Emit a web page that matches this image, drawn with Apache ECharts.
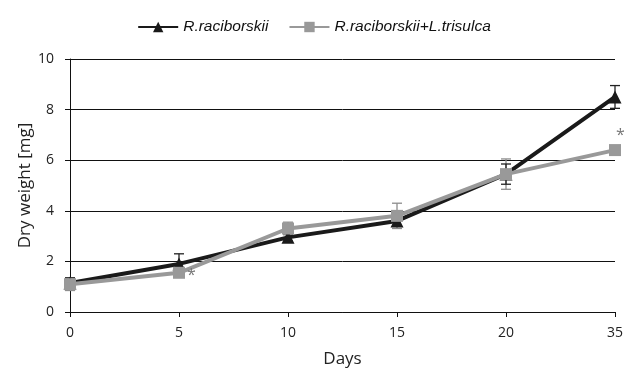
<!DOCTYPE html>
<html><head><meta charset="utf-8">
<script src="https://cdn.jsdelivr.net/npm/echarts@6/dist/echarts.min.js"></script>
<style>html,body{margin:0;padding:0;background:#fff}#c{width:628px;height:369px}</style>
</head><body><div id="c"></div>
<script>
const days = ['0','5','10','15','20','35'];
const seriesNames = ['R.raciborskii','R.raciborskii+L.trisulca'];
const rac = [1.15, 1.9, 2.95, 3.6, 5.45, 8.5];
const racErr = [0.2, 0.4, 0.15, 0.2, 0.4, 0.45];
const mix = [1.1, 1.55, 3.3, 3.8, 5.45, 6.4];
const mixErr = [0.25, 0.15, 0.25, 0.5, 0.6, 0.1];
const mixSig = ['', '*', '', '', '', '*'];
const yTicks = [0, 2, 4, 6, 8, 10];

const chart = echarts.init(document.getElementById('c'));
function errSeries(vals, errs, color, z) {
  return {
    type: 'custom', z: z, silent: true,
    data: vals.map((v, i) => [i, v - errs[i], v + errs[i]]),
    renderItem: function (params, api) {
      const lo = api.coord([api.value(0), api.value(1)]);
      const hi = api.coord([api.value(0), api.value(2)]);
      const w = 5;
      const st = { stroke: color, lineWidth: 1.3 };
      return { type: 'group', children: [
        { type: 'line', shape: { x1: lo[0], y1: lo[1], x2: hi[0], y2: hi[1] }, style: st },
        { type: 'line', shape: { x1: lo[0]-w, y1: lo[1], x2: lo[0]+w, y2: lo[1] }, style: st },
        { type: 'line', shape: { x1: hi[0]-w, y1: hi[1], x2: hi[0]+w, y2: hi[1] }, style: st }
      ]};
    }
  };
}
chart.setOption({
  animation: false,
  textStyle: { fontFamily: 'Open Sans' },
  legend: {
    top: 14, left: 'center', itemWidth: 40, itemHeight: 13, itemGap: 20,
    textStyle: { fontFamily: 'Liberation Sans', fontStyle: 'italic', fontSize: 15.5, color: '#111' },
    data: seriesNames
  },
  grid: { left: 70, right: 13, top: 59, bottom: 57, containLabel: false, outerBoundsMode: 'none' },
  xAxis: {
    type: 'category', data: days, boundaryGap: false,
    name: 'Days', nameLocation: 'middle', nameGap: 39, nameMoveOverlap: false,
    nameTextStyle: { fontSize: 17, color: '#222' },
    axisLine: { lineStyle: { color: '#111', width: 1 } },
    axisTick: { show: true, length: 5, lineStyle: { color: '#111' } },
    axisLabel: { fontSize: 14, color: '#222', margin: 14 },
    splitLine: { show: false }
  },
  yAxis: {
    type: 'value', min: yTicks[0], max: yTicks[yTicks.length-1], interval: 2,
    name: 'Dry weight [mg]', nameLocation: 'middle', nameGap: 36, nameMoveOverlap: false,
    nameTextStyle: { fontSize: 17, color: '#222' },
    axisLine: { show: true, lineStyle: { color: '#111', width: 1 } },
    axisTick: { show: true, length: 5, lineStyle: { color: '#111' } },
    axisLabel: { fontSize: 14, color: '#222', margin: 16 },
    splitLine: { show: true, lineStyle: { color: '#111', width: 1 } }
  },
  series: [
    errSeries(mix, mixErr, '#8c8c8c', 1),
    errSeries(rac, racErr, '#222', 1),
    {
      name: seriesNames[0], type: 'line', data: rac, z: 3,
      symbol: 'triangle', symbolSize: 13,
      lineStyle: { color: '#1a1a1a', width: 4 },
      itemStyle: { color: '#1a1a1a' }
    },
    {
      name: seriesNames[1], type: 'line', data: mix.map((v, i) => ({
        value: v,
        label: mixSig[i] ? { show: true, formatter: mixSig[i], position: i === 5 ? [7, -17] : [14, 1], fontSize: 16, color: '#777' } : { show: false }
      })), z: 4,
      symbol: 'rect', symbolSize: 12,
      lineStyle: { color: '#999999', width: 4 },
      itemStyle: { color: '#999999' }
    }
  ]
});
</script></body></html>
